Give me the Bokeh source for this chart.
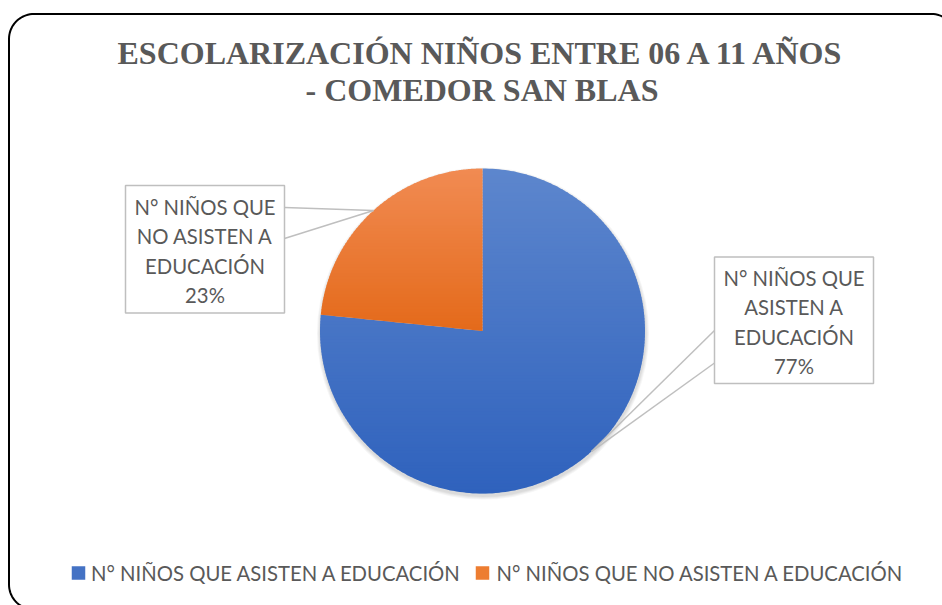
import math
import numpy as np
from bokeh.plotting import figure
from bokeh.models import Range1d
from bokeh.core.properties import value
from bokeh.embed import file_html
from bokeh.resources import INLINE

# ---------------- data ----------------
categories = ["N° NIÑOS QUE ASISTEN A EDUCACIÓN", "N° NIÑOS QUE NO ASISTEN A EDUCACIÓN"]
shares = [76.6, 23.4]
label_lines = [["N° NIÑOS QUE", "ASISTEN A", "EDUCACIÓN"],
               ["N° NIÑOS QUE", "NO ASISTEN A", "EDUCACIÓN"]]
title_lines = ["ESCOLARIZACIÓN NIÑOS ENTRE 06 A 11 AÑOS", "- COMEDOR SAN BLAS"]
base_colors = ["#4472C4", "#ED7D31"]
top_colors = ["#5d86cd", "#f18b53"]
bottom_colors = ["#2f62bd", "#e46a1a"]

# ---------------- layout ----------------
W, H = 942, 605
X0, Y0 = 0, 0
CX, CY, R = 482.0, 330.5, 162.5
TEXT_GRAY = "#595959"
BOX_GRAY = "#bfbfbf"
LABEL_SIZE = "20.3px"
DY_LABEL = -7.8
DY_TITLE = -12.0

p = figure(width=W, height=H, x_range=Range1d(X0, X0 + W), y_range=Range1d(Y0 + H, Y0),
           output_backend="svg", toolbar_location=None, min_border=0,
           x_axis_type=None, y_axis_type=None)
p.outline_line_color = None
p.xgrid.visible = False
p.ygrid.visible = False
p.background_fill_color = "white"
p.border_fill_color = "white"

# rounded frame
def rounded_rect(l, t, r_, b, rad, n=20):
    xs, ys = [], []
    corners = [(r_ - rad, t + rad, -90, 0), (r_ - rad, b - rad, 0, 90),
               (l + rad, b - rad, 90, 180), (l + rad, t + rad, 180, 270)]
    for cx, cy, a0, a1 in corners:
        for a in np.linspace(math.radians(a0), math.radians(a1), n):
            xs.append(cx + rad * math.cos(a))
            ys.append(cy + rad * math.sin(a))
    xs.append(xs[0]); ys.append(ys[0])
    return xs, ys

fx, fy = rounded_rect(8.5, 13.5, 956, 609, 25)
p.line(fx, fy, line_color="black", line_width=2)

# title
for i, t in enumerate(title_lines):
    p.text(x=[481.5], y=[64.5 + 37 * i + DY_TITLE], text=[t], text_font=value("Liberation Serif"),
           text_font_style="bold", text_font_size="32px", text_color=TEXT_GRAY,
           text_align="center", text_baseline="alphabetic")

# shadow
for k in range(1, 5):
    p.circle(x=[CX + 0.5], y=[CY + 2.5], radius=R + k * 0.9, fill_color="black",
             fill_alpha=0.035, line_color=None)

# pie slices with vertical gradient (drawn as horizontal bands)
def clip(poly, yv, keep_above):
    out = []
    n = len(poly)
    for i in range(n):
        a = poly[i]; b = poly[(i + 1) % n]
        ina = (a[1] >= yv) if keep_above else (a[1] <= yv)
        inb = (b[1] >= yv) if keep_above else (b[1] <= yv)
        if ina:
            out.append(a)
        if ina != inb:
            tt = (yv - a[1]) / (b[1] - a[1])
            out.append((a[0] + tt * (b[0] - a[0]), yv))
    return out

def hex2rgb(h):
    h = h.lstrip("#")
    return tuple(int(h[i:i + 2], 16) for i in (0, 2, 4))

def mix(c0, c1, t):
    a, b = hex2rgb(c0), hex2rgb(c1)
    return "#%02x%02x%02x" % tuple(int(round(a[i] + (b[i] - a[i]) * t)) for i in range(3))

total = sum(shares)
cum = 0.0
mids = []
for idx, s in enumerate(shares):
    f0, f1 = cum / total, (cum + s) / total
    cum += s
    angs = np.linspace(f0, f1, 240) * 2 * math.pi
    poly = [(CX, CY)] + [(CX + R * math.sin(a), CY - R * math.cos(a)) for a in angs]
    ymin = min(q[1] for q in poly); ymax = max(q[1] for q in poly)
    step = 3.0
    bxs, bys, bcols = [], [], []
    yv = ymin
    while yv < ymax:
        band = clip(clip(poly, yv, True), yv + step + 0.8, False)
        if len(band) >= 3:
            tt = min(1.0, max(0.0, (yv + step / 2 - ymin) / (ymax - ymin)))
            bxs.append([q[0] for q in band]); bys.append([q[1] for q in band])
            bcols.append(mix(top_colors[idx], bottom_colors[idx], tt))
        yv += step
    p.patches(bxs, bys, fill_color=bcols, line_color=None)
    fm = (f0 + f1) / 2 * 2 * math.pi
    mids.append((CX + R * math.sin(fm), CY - R * math.cos(fm)))

# data labels (callouts)
boxes = [(714, 256.5, 873, 383), (125, 185, 284, 312.5)]
attach = [[(714, 330), (714, 362.5)], [(284, 207), (284, 238)]]
baselines = [[285, 314.5, 344, 373], [214, 243.5, 273, 302]]
for idx in range(len(shares)):
    mx, my = mids[idx]
    for ax, ay in attach[idx]:
        p.line([ax, mx], [ay, my], line_color=BOX_GRAY, line_width=1.5)
    l, t, r_, b = boxes[idx]
    p.quad(left=[l], right=[r_], top=[t], bottom=[b], fill_color="white",
           line_color=BOX_GRAY, line_width=1.5)
    lines = label_lines[idx] + ["%d%%" % round(shares[idx] / total * 100)]
    p.text(x=[(l + r_) / 2] * len(lines), y=[v + DY_LABEL for v in baselines[idx]], text=lines,
           text_font=value("Lato"), text_font_size=LABEL_SIZE, text_color=TEXT_GRAY,
           text_align="center", text_baseline="alphabetic")

# legend
sq_x = [78, 482]
tx_x = [90.5, 496]
p.rect(x=sq_x, y=[572.5, 572.5], width=13.5, height=13.5, fill_color=base_colors, line_color=None)
p.text(x=tx_x, y=[580 + DY_LABEL] * 2, text=categories, text_font=value("Lato"),
       text_font_size=LABEL_SIZE, text_color=TEXT_GRAY, text_align="left",
       text_baseline="alphabetic")

open("out.html", "w").write(file_html(p, INLINE))
